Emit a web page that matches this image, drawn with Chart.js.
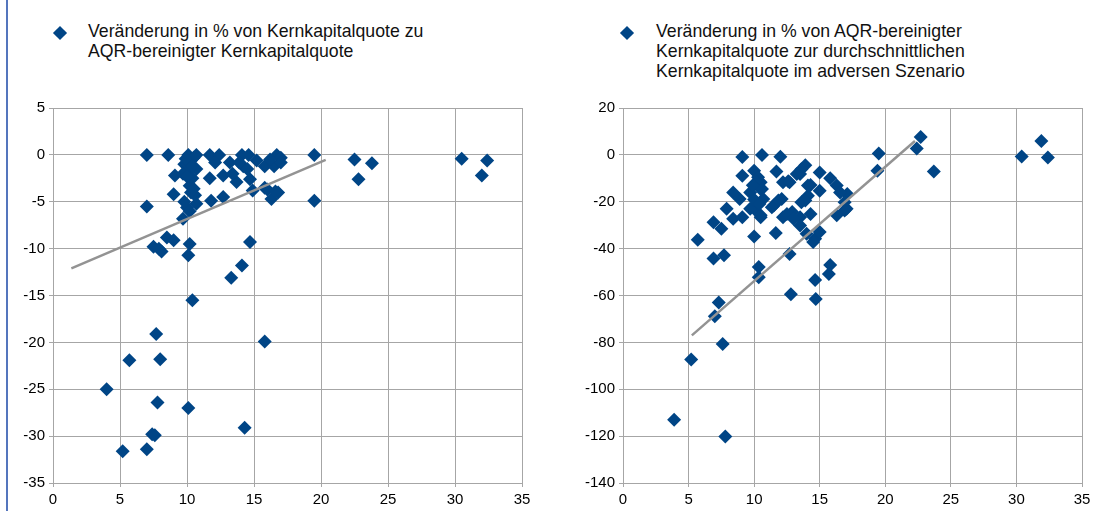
<!DOCTYPE html>
<html>
<head>
<meta charset="utf-8">
<script src="https://cdn.jsdelivr.net/npm/chart.js@4/dist/chart.umd.min.js"></script>
<style>
  html, body { margin: 0; padding: 0; background: #fff; }
  body { width: 1104px; height: 511px; position: relative; overflow: hidden;
         font-family: "Liberation Sans", Arial, sans-serif; }
  .edge { position: absolute; left: 6px; top: 0; width: 2px; height: 511px; background: #5475bd; }
  .legend { position: absolute; top: 21px; font-size: 17.7px; line-height: 20px; color: #111; white-space: nowrap; }
  .diamond { position: absolute; width: 10px; height: 10px; background: #004586; transform: rotate(45deg); }
  canvas { position: absolute; }
</style>
</head>
<body>
<div class="edge"></div>
<div class="diamond" style="left:55px; top:28px;"></div>
<div class="legend" style="left:88px;">Veränderung in % von Kernkapitalquote zu<br>AQR-bereinigter Kernkapitalquote</div>
<div class="diamond" style="left:622px; top:28px;"></div>
<div class="legend" style="left:656px;">Veränderung in % von AQR-bereinigter<br>Kernkapitalquote zur durchschnittlichen<br>Kernkapitalquote im adversen Szenario</div>

<canvas id="left" width="540" height="416" style="left:0; top:95px;"></canvas>
<canvas id="right" width="544" height="416" style="left:560px; top:95px;"></canvas>

<script>
// left panel: Kernkapitalquote (x) vs. change to AQR-adjusted ratio (y)
const leftX = [7.0, 8.6, 10.1, 10.7, 10.3, 9.8, 10.7, 10.1, 11.7, 12.4, 12.1, 13.2, 14.1, 14.6, 14.2, 15.2,
  15.8, 16.7, 17.0, 16.5, 17.0, 19.5, 9.1, 9.7, 11.7, 12.7, 13.7, 13.4, 14.7, 14.9, 15.8, 16.3,
  16.8, 19.5, 9.0, 7.0, 10.3, 10.7, 10.0, 9.7, 11.8, 12.7, 10.2, 10.6, 10.4, 14.7, 7.5, 8.1,
  8.5, 9.0, 10.2, 10.1, 14.1, 10.4, 13.3, 7.7, 5.7, 8.0, 15.8, 4.0, 7.8, 10.1, 14.3, 7.4,
  7.6, 7.0, 5.2, 22.5, 23.8, 22.8, 30.5, 32.4, 32.0, 7.9, 10.5, 9.9, 10.4, 13.9, 14.5, 16.2,
  10.0, 10.2, 9.8, 10.5, 16.0, 16.6];
const leftY = [0, 0, 0, 0, -0.6, -1.0, -1.5, -1.7, 0, 0, -0.8, -0.8, 0, 0, -1.2, -0.6,
  -1.2, 0, -0.3, -1.2, -0.8, 0, -2.2, -2.0, -2.5, -2.2, -2.9, -2.0, -2.6, -3.8, -3.5, -4.7,
  -4.0, -4.9, -4.2, -5.5, -4.0, -5.2, -5.6, -6.8, -4.9, -4.5, -3.3, -4.3, -2.5, -9.3, -9.8, -10.3,
  -8.8, -9.1, -9.5, -10.7, -11.8, -15.5, -13.1, -19.1, -21.9, -21.8, -19.9, -25.0, -26.4, -27.0, -29.1, -29.8,
  -29.9, -31.4, -31.6, -0.5, -0.9, -2.6, -0.4, -0.6, -2.2, -10.0, -0.3, -0.4, -1.2, -0.8, -1.5, -0.5,
  -2.3, -6.0, -5.0, -3.6, -3.7, -3.9];
const leftTrendX = [1.37, 20.35];
const leftTrendY = [-12.1, -0.53];

// right panel: Kernkapitalquote (x) vs. change AQR-adjusted to adverse scenario (y)
const rightX = [9.1, 10.6, 12.0, 9.1, 10.0, 11.7, 13.5, 13.9, 15.0, 15.8, 10.5, 12.6, 14.3, 15.0, 16.3, 17.1,
  8.4, 8.9, 9.7, 10.5, 12.1, 11.5, 13.6, 14.1, 16.9, 16.9, 16.3, 7.9, 8.4, 9.1, 10.0, 10.5,
  12.2, 12.9, 13.5, 14.3, 13.5, 14.0, 14.65, 15.0, 6.9, 7.5, 5.7, 10.0, 11.65, 6.9, 7.7, 12.7,
  10.35, 10.35, 15.8, 15.7, 14.65, 10.3, 10.2, 10.6, 10.7, 10.1, 10.5, 9.7, 12.2, 12.7, 11.85, 11.35,
  13.6, 13.25, 14.1, 13.9, 16.55, 12.5, 13.0, 14.5, 12.8, 14.7, 7.3, 7.0, 7.6, 5.2, 3.9, 7.8,
  19.5, 19.4, 22.7, 22.4, 23.7, 30.4, 31.9, 32.4, 17.05, 10.0, 10.4, 9.9];
const rightY = [-0.9, 0, -0.8, -8.9, -6.8, -7.1, -8.2, -4.4, -7.5, -10.0, -11.7, -11.3, -12.9, -15.3, -13.1, -16.7,
  -16.0, -18.8, -16.0, -14.7, -18.8, -21.6, -20.2, -17.4, -20.2, -23.7, -25.8, -23.0, -27.3, -26.6, -23.0, -26.6,
  -26.6, -24.4, -26.6, -25.2, -30.1, -33.6, -35.8, -32.9, -28.7, -31.5, -36.2, -34.8, -33.3, -44.2, -42.8, -42.3,
  -47.8, -52.2, -47.0, -50.8, -53.4, -9.5, -11.7, -14.6, -18.8, -21.6, -25.8, -23.0, -11.7, -11.7, -19.5, -22.3,
  -6.1, -8.2, -13.1, -19.5, -16.0, -25.2, -27.3, -37.2, -59.5, -61.5, -63.0, -68.9, -80.7, -87.3, -113.0, -120.2,
  0.6, -6.8, 7.6, 2.7, -7.1, -0.7, 5.9, -1.1, -23.0, -19.0, -21.0, -13.0];
const rightTrendX = [5.25, 22.26];
const rightTrendY = [-77, 5.9];

const gridColor = "#a6a6a6";
const tickFont = { family: "Liberation Sans", size: 15 };

function pts(xs, ys) {
  return xs.map((x, i) => ({ x: x, y: ys[i] }));
}

function makeChart(id, xs, ys, tx, ty, yMin, yMax, yStep, yWidth, padRight) {
  const ctx = document.getElementById(id).getContext("2d");
  return new Chart(ctx, {
    type: "scatter",
    data: {
      datasets: [
        {
          type: "line",
          data: pts(tx, ty),
          borderColor: "#939393",
          borderWidth: 2.5,
          pointRadius: 0,
          order: 0,
        },
        {
          data: pts(xs, ys),
          pointStyle: "rectRot",
          pointRadius: 7,
          pointHoverRadius: 7,
          backgroundColor: "#004586",
          borderWidth: 0,
          order: 1,
        },
      ],
    },
    options: {
      responsive: false,
      animation: false,
      devicePixelRatio: 1,
      layout: { padding: { top: 10, right: padRight, left: 0, bottom: 0 } },
      plugins: { legend: { display: false }, tooltip: { enabled: false } },
      scales: {
        x: {
          type: "linear",
          min: 0,
          max: 35,
          ticks: { stepSize: 5, font: tickFont, color: "#000", padding: 4, maxRotation: 0, autoSkip: false },
          grid: { color: gridColor, tickLength: 4 },
          border: { color: gridColor },
          afterFit: (s) => { s.height = 28; },
        },
        y: {
          min: yMin,
          max: yMax,
          ticks: { stepSize: yStep, font: tickFont, color: "#000", padding: 4, autoSkip: false },
          grid: { color: gridColor, tickLength: 4 },
          border: { color: gridColor },
          afterFit: (s) => { s.width = yWidth; },
        },
      },
    },
  });
}

makeChart("left", leftX, leftY, leftTrendX, leftTrendY, -35, 5, 5, 53, 18);
makeChart("right", rightX, rightY, rightTrendX, rightTrendY, -140, 20, 20, 63, 22);
</script>
</body>
</html>
